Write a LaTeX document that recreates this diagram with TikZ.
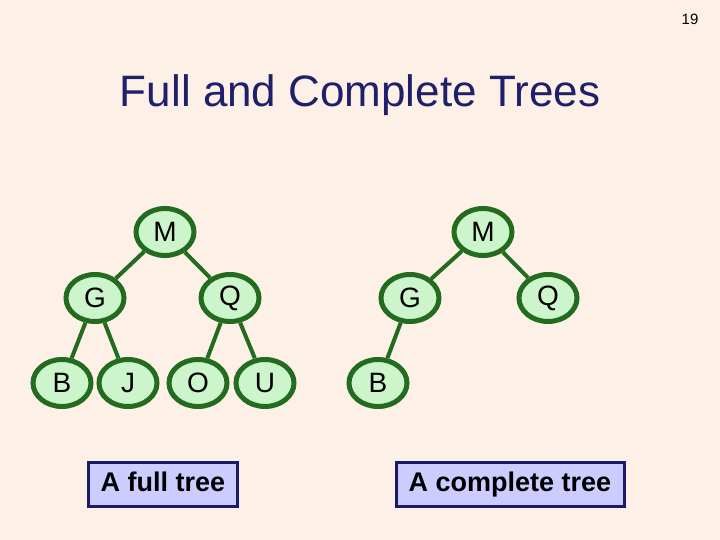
\documentclass[tikz,border=0pt]{standalone}
\usepackage{fontspec}
\setmainfont{Liberation Sans}
\usetikzlibrary{shapes.geometric}
\definecolor{bg}{HTML}{FDF0E6}
\definecolor{dg}{HTML}{236B1E}
\definecolor{lg}{HTML}{CCF5CC}
\definecolor{nv}{HTML}{1A1A6B}
\definecolor{lv}{HTML}{CCCCFF}
\definecolor{tt}{HTML}{1F1F6B}
\begin{document}
\begin{tikzpicture}[x=1pt,y=-1pt,
 tn/.style={ellipse,draw=dg,fill=lg,line width=5pt,minimum width=58pt,minimum height=47pt,inner sep=0pt,font=\fontsize{28}{30}\selectfont},
 ed/.style={draw=dg,line width=4pt},
 lb/.style={draw=nv,line width=3pt,fill=lv,font=\bfseries\fontsize{27}{30}\selectfont,minimum height=44pt,inner xsep=6pt,text height=19pt,text depth=5pt}]
\fill[bg] (0,0) rectangle (720,540);
\useasboundingbox (0,0) rectangle (720,540);
\node (pg) at (690,19) {\fontsize{15}{17}\selectfont 19};
\node[text=tt] (title) at (360,95) {\fontsize{44}{50}\selectfont Full and Complete Trees};
\node[tn] (m1) at (165,232) {M};
\node[tn] (g1) at (95,298) {G};
\node[tn] (q1) at (230,298) {Q};
\node[tn] (b1) at (62,383) {B};
\node[tn] (j1) at (128,383) {J};
\node[tn] (o1) at (198,383) {O};
\node[tn] (u1) at (265,383) {U};
\node[tn] (m2) at (483,232) {M};
\node[tn] (g2) at (410,298) {G};
\node[tn] (q2) at (548,298) {Q};
\node[tn] (b2) at (378,383) {B};
\draw[ed] (m1) -- (g1); \draw[ed] (m1) -- (q1);
\draw[ed] (g1) -- (b1); \draw[ed] (g1) -- (j1);
\draw[ed] (q1) -- (o1); \draw[ed] (q1) -- (u1);
\draw[ed] (m2) -- (g2); \draw[ed] (m2) -- (q2);
\draw[ed] (g2) -- (b2);
\node[lb,minimum width=149pt] (l1) at (163,484) {A full tree};
\node[lb,minimum width=228pt] (l2) at (510,484) {A complete tree};
\end{tikzpicture}
\end{document}
